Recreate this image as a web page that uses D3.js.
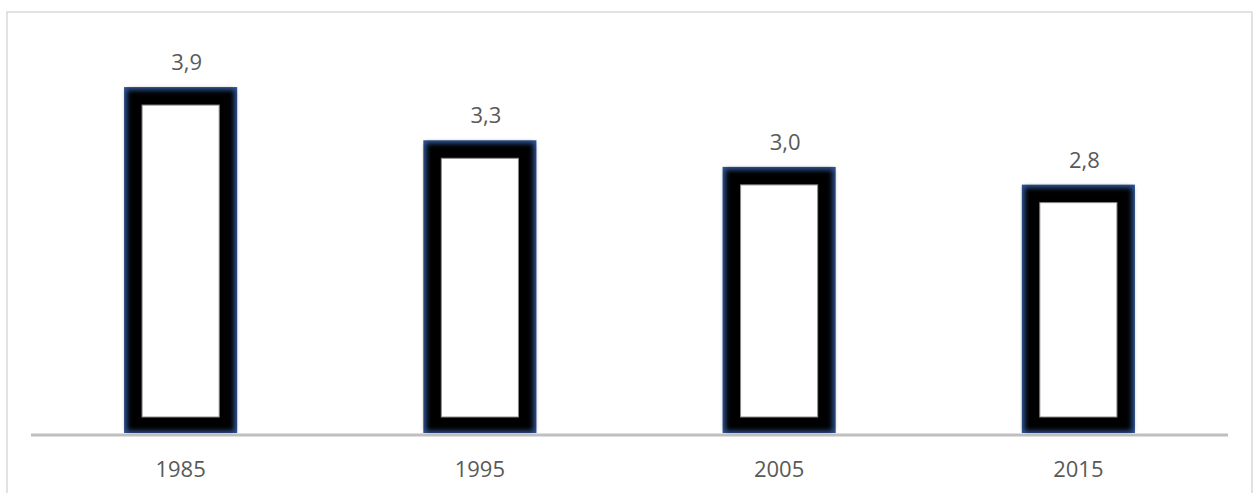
<!DOCTYPE html>
<html>
<head>
<meta charset="utf-8">
<script src="https://cdn.jsdelivr.net/npm/d3@7"></script>
<style>
  body { margin: 0; background: #fff; }
  text { font-family: "Open Sans", sans-serif; fill: #595959; }
</style>
</head>
<body>
<script>
var years = ['1985', '1995', '2005', '2015'];
var values = [3.9, 3.3, 3.0, 2.8];
var labels = ['3,9', '3,3', '3,0', '2,8'];

var width = 1258, height = 493;

var svg = d3.select('body').append('svg')
            .attr('width', width)
            .attr('height', height);

var defs = svg.append('defs');
defs.append('filter').attr('id', 'soft')
    .attr('x', '-10%').attr('y', '-10%').attr('width', '120%').attr('height', '120%')
    .append('feGaussianBlur').attr('stdDeviation', 2.5);

// chart frame
svg.append('rect')
    .attr('x', 7).attr('y', 12)
    .attr('width', 1245).attr('height', 500)
    .attr('fill', 'none')
    .attr('stroke', '#d9d9d9')
    .attr('stroke-width', 1.5);

var x = d3.scaleBand().domain(years).range([31, 1228]).paddingInner(0.622).paddingOuter(0.311);
var y = d3.scaleLinear().domain([0, 4.5]).range([433, 433 - 4.5 * 88.7]);

var bw = 18; // thick border of each bar

var bars = svg.selectAll('g.bar').data(years).enter().append('g').attr('class', 'bar');

bars.append('rect')
    .attr('x', function(d){ return x(d); })
    .attr('y', function(d, i){ return y(values[i]); })
    .attr('width', x.bandwidth())
    .attr('height', function(d, i){ return y(0) - y(values[i]); })
    .attr('fill', '#2f5597');

bars.append('rect')
    .attr('x', function(d){ return x(d) + 3; })
    .attr('y', function(d, i){ return y(values[i]) + 3; })
    .attr('width', x.bandwidth() - 6)
    .attr('height', function(d, i){ return y(0) - y(values[i]) - 5; })
    .attr('fill', '#000')
    .attr('filter', 'url(#soft)');

bars.append('rect')
    .attr('x', function(d){ return x(d) + bw; })
    .attr('y', function(d, i){ return y(values[i]) + bw; })
    .attr('width', x.bandwidth() - 2 * bw)
    .attr('height', function(d, i){ return y(0) - y(values[i]) - bw - 16; })
    .attr('fill', '#fff')
    .attr('stroke', '#8c8c8c')
    .attr('stroke-width', 1);

// axis line
svg.append('line')
    .attr('x1', 31).attr('x2', 1228)
    .attr('y1', 435).attr('y2', 435)
    .attr('stroke', '#bfbfbf')
    .attr('stroke-width', 3);

// value labels
svg.selectAll('text.val').data(years).enter().append('text')
    .attr('class', 'val')
    .attr('x', function(d){ return x(d) + x.bandwidth() / 2 + 6; })
    .attr('y', function(d, i){ return y(values[i]) - 17; })
    .attr('text-anchor', 'middle')
    .style('font-size', '22px')
    .text(function(d, i){ return labels[i]; });

// category labels
svg.selectAll('text.cat').data(years).enter().append('text')
    .attr('class', 'cat')
    .attr('x', function(d){ return x(d) + x.bandwidth() / 2; })
    .attr('y', 477)
    .attr('text-anchor', 'middle')
    .style('font-size', '22px')
    .text(function(d){ return d; });
</script>
</body>
</html>
